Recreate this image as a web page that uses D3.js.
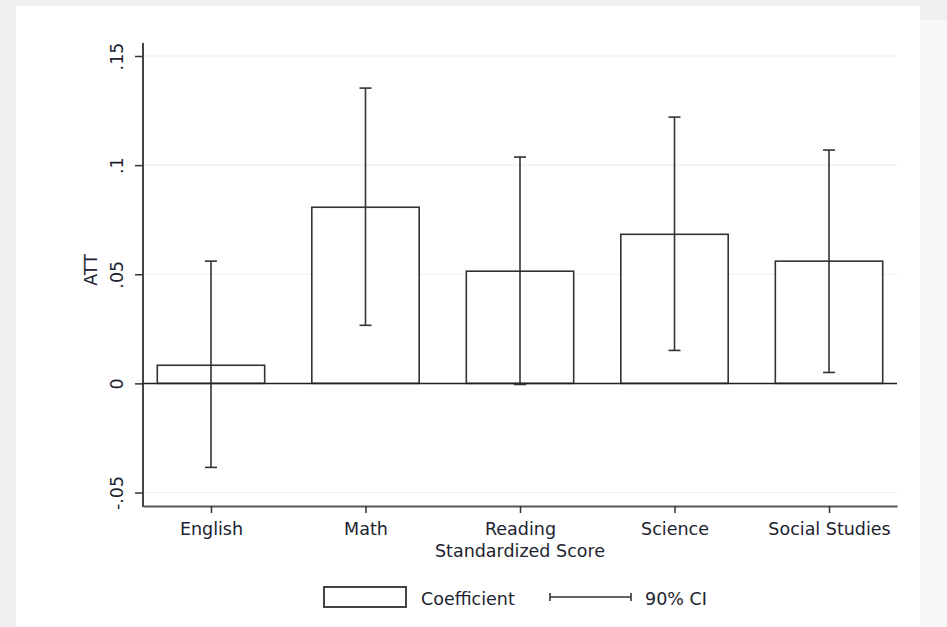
<!DOCTYPE html>
<html><head><meta charset="utf-8">
<script src="https://cdn.jsdelivr.net/npm/d3@7"></script>
<style>body{margin:0;background:#efefef;}svg{display:block;}</style>
</head><body><svg id="c" width="947" height="627"></svg>
<script>
const categories = ["English","Math","Reading","Science","Social Studies"];
const coef  = [0.0083, 0.0807, 0.0514, 0.0683, 0.0560];
const ciLow = [-0.0385, 0.0266, -0.0005, 0.0151, 0.0050];
const ciHigh= [0.0560, 0.1353, 0.1037, 0.1220, 0.1069];
const yTicks = [-0.05, 0, 0.05, 0.1, 0.15];
const yTickLabels = ["-.05","0",".05",".1",".15"];
const xTitle = "Standardized Score";
const yTitle = "ATT";
const legendLabels = ["Coefficient","90% CI"];

const font = "'DejaVu Sans', sans-serif";
const fs = 17.5;
const tc = "#1c2330";
const svg = d3.select("#c");
svg.append("rect").attr("width",947).attr("height",627).attr("fill","#efefef");
svg.append("rect").attr("x",16).attr("y",6).attr("width",904).attr("height",621).attr("fill","#ffffff");
svg.append("rect").attr("x",920).attr("y",20).attr("width",27).attr("height",607).attr("fill","#f7f7f7");

const L=143, R=897, T=43, B=506;
const y = d3.scaleLinear().domain([-0.05,0.15]).range([492.5,56]);
const x = d3.scalePoint().domain(categories).range([L,R]).padding(0.44);
const bw = x.step()*0.695;

// gridlines
svg.append("g").selectAll("line").data(yTicks.filter(d=>d!==0)).join("line")
  .attr("x1",L).attr("x2",R).attr("y1",d=>y(d)).attr("y2",d=>y(d))
  .attr("stroke","#e8f0f1").attr("stroke-width",1.2);

// y axis
const ya = svg.append("g").attr("transform",`translate(${L},0)`)
  .call(d3.axisLeft(y).tickValues(yTicks).tickFormat((d,i)=>yTickLabels[i]).tickSize(8).tickSizeOuter(0));
ya.select(".domain").remove();
ya.selectAll(".tick line").attr("stroke","#333").attr("stroke-width",1.5);
ya.selectAll(".tick text").attr("font-family",font).attr("font-size",fs).attr("fill",tc)
  .attr("transform","rotate(-90)").attr("x",0).attr("y",-20).attr("dy","0").attr("text-anchor","middle");
svg.append("line").attr("x1",L).attr("x2",L).attr("y1",T).attr("y2",B+1).attr("stroke","#444").attr("stroke-width",2);

// bars
svg.append("g").selectAll("rect").data(categories).join("rect")
  .attr("x",d=>x(d)-bw/2).attr("width",bw)
  .attr("y",(d,i)=>Math.min(y(coef[i]),y(0))).attr("height",(d,i)=>Math.abs(y(coef[i])-y(0)))
  .attr("fill","#fff").attr("stroke","#333").attr("stroke-width",1.6);

// zero line
svg.append("line").attr("x1",L).attr("x2",R).attr("y1",y(0)).attr("y2",y(0)).attr("stroke","#222").attr("stroke-width",1.5);

// CI
const ci = svg.append("g").attr("stroke","#333").attr("stroke-width",1.6);
categories.forEach((c,i)=>{
  ci.append("line").attr("x1",x(c)).attr("x2",x(c)).attr("y1",y(ciLow[i])).attr("y2",y(ciHigh[i]));
  [ciLow[i],ciHigh[i]].forEach(v=>ci.append("line").attr("x1",x(c)-6).attr("x2",x(c)+6).attr("y1",y(v)).attr("y2",y(v)));
});

// x axis
const xa = svg.append("g").attr("transform",`translate(0,${B})`)
  .call(d3.axisBottom(x).tickSize(7).tickSizeOuter(0));
xa.select(".domain").attr("stroke","#555").attr("stroke-width",2.2);
xa.selectAll(".tick line").attr("stroke","#333").attr("stroke-width",1.5);
xa.selectAll(".tick text").attr("font-family",font).attr("font-size",fs).attr("fill",tc).attr("dy","0").attr("y",29);

svg.append("text").attr("x",x("Reading")).attr("y",557).attr("text-anchor","middle")
  .attr("font-family",font).attr("font-size",fs).attr("fill",tc).text(xTitle);
svg.append("text").attr("transform","translate(97,270) rotate(-90)").attr("text-anchor","middle")
  .attr("font-family",font).attr("font-size",fs).attr("fill",tc).text(yTitle);

// legend
svg.append("rect").attr("x",324).attr("y",587).attr("width",82).attr("height",20)
  .attr("fill","#fff").attr("stroke","#444").attr("stroke-width",2);
svg.append("text").attr("x",421).attr("y",605).attr("font-family",font).attr("font-size",fs).attr("fill",tc).text(legendLabels[0]);
const lg = svg.append("g").attr("stroke","#333").attr("stroke-width",1.6);
lg.append("line").attr("x1",550).attr("x2",631).attr("y1",597).attr("y2",597);
lg.append("line").attr("x1",550).attr("x2",550).attr("y1",593).attr("y2",601);
lg.append("line").attr("x1",631).attr("x2",631).attr("y1",593).attr("y2",601);
svg.append("text").attr("x",645).attr("y",605).attr("font-family",font).attr("font-size",fs).attr("fill",tc).text(legendLabels[1]);
</script></body></html>
